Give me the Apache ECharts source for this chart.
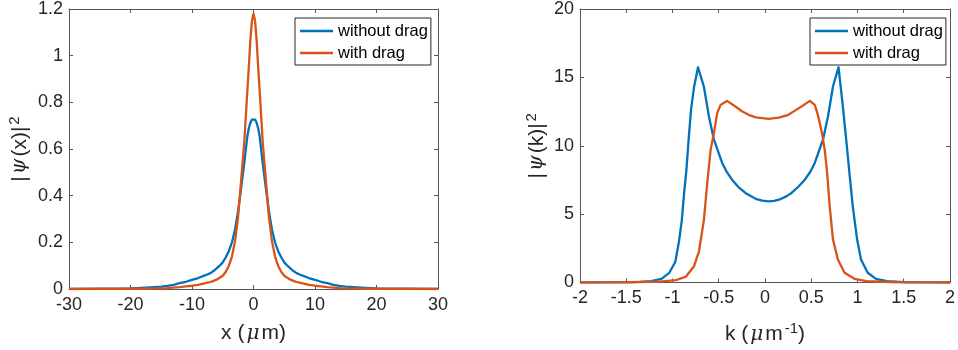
<!DOCTYPE html>
<html>
<head>
<meta charset="utf-8">
<script src="https://cdn.jsdelivr.net/npm/echarts@6/dist/echarts.min.js"></script>
<style>
html,body{margin:0;padding:0;background:#fff;}
#c{width:958px;height:350px;}
</style>
</head>
<body>
<div id="c"></div>
<script>
// ---- data: real-space density |psi(x)|^2 ----
const xGrid = [-30,-25,-22.5,-20,-17.5,-15,-14,-13,-12,-11,-10,-9,-8,-7.5,-7,-6.5,-6,-5.5,-5,-4.5,-4,-3.5,-3,-2.5,-2,-1.5,-1,-0.75,-0.5,-0.25,0,
               0.25,0.5,0.75,1,1.5,2,2.5,3,3.5,4,4.5,5,5.5,6,6.5,7,7.5,8,9,10,11,12,13,14,15,17.5,20,22.5,25,30];
const psiXNoDrag = [0,0.001,0.002,0.003,0.006,0.010,0.013,0.018,0.025,0.031,0.039,0.047,0.057,0.062,0.068,0.077,0.088,0.100,0.114,0.136,0.163,0.200,0.255,0.335,0.435,0.54,0.655,0.69,0.713,0.726,0.73,
                    0.726,0.713,0.69,0.655,0.54,0.435,0.335,0.255,0.200,0.163,0.136,0.114,0.100,0.088,0.077,0.068,0.062,0.057,0.047,0.039,0.031,0.025,0.018,0.013,0.010,0.006,0.003,0.002,0.001,0];
const psiXDrag   = [0,0,0,0.001,0.002,0.003,0.004,0.006,0.008,0.011,0.014,0.018,0.024,0.027,0.030,0.035,0.040,0.048,0.057,0.074,0.100,0.140,0.205,0.31,0.47,0.63,0.85,0.955,1.07,1.15,1.18,
                    1.15,1.07,0.955,0.85,0.63,0.47,0.31,0.205,0.140,0.100,0.074,0.057,0.048,0.040,0.035,0.030,0.027,0.024,0.018,0.014,0.011,0.008,0.006,0.004,0.003,0.002,0.001,0,0,0];

// ---- data: momentum-space density |psi(k)|^2 ----
const kNoDrag = [-2,-1.7,-1.5,-1.35,-1.23,-1.12,-1.035,-0.97,-0.93,-0.9,-0.875,-0.85,-0.825,-0.8,-0.767,-0.724,
                 -0.66,-0.606,-0.552,-0.463,-0.41,-0.356,-0.29,-0.212,-0.15,-0.1,-0.03,0.038,0.1,0.17,0.23,0.287,0.36,0.431,0.49,0.538,0.627,0.681,0.735,0.795,
                 0.842,0.878,0.913,0.949,0.996,1.038,1.11,1.2,1.32,1.5,1.7,2];
const psiKNoDrag = [0,0.003,0.01,0.04,0.1,0.27,0.71,1.5,3.0,4.5,6.5,8.2,10.5,12.6,14.3,15.74,
                    14.3,12.14,10.44,8.74,8.05,7.52,7.0,6.55,6.3,6.12,5.98,5.93,5.97,6.1,6.3,6.55,7.0,7.52,8.1,8.74,10.44,12.14,14.33,15.74,
                    12.87,10.44,8.0,5.57,3.14,1.68,0.71,0.27,0.1,0.02,0.004,0];
const kDrag = [-2,-1.7,-1.46,-1.14,-0.963,-0.856,-0.767,-0.713,-0.66,-0.624,-0.588,-0.552,-0.517,-0.48,-0.41,-0.32,-0.25,-0.177,-0.1,
               0.038,0.15,0.252,0.32,0.395,0.485,0.538,0.574,0.617,0.646,0.672,0.699,0.735,0.788,0.86,0.967,1.1,1.4,1.7,2];
const psiKDrag = [0,0.005,0.02,0.07,0.17,0.42,1.19,2.3,4.6,7.3,9.7,10.93,12.39,12.99,13.28,12.87,12.52,12.26,12.08,
                  11.97,12.05,12.26,12.55,12.87,13.28,12.99,12.2,10.9,9.7,8.0,5.6,3.14,1.68,0.71,0.27,0.1,0.02,0.004,0];

const seriesNames = ['without drag','with drag'];
const seriesColors = ['#0072BD','#D95319'];

function pairs(xs, ys){ return xs.map((x,i)=>[x, ys[i]]); }

const FONT = '"Liberation Sans", Arial, Helvetica, sans-serif';
const TXT = '#262626';
const LINE = '#555555';
const RICH = {
  i:{fontFamily:'"DejaVu Serif", serif', fontStyle:'italic', fontSize:20, color:TXT, padding:[0,2,0,2]},
  s:{fontFamily:FONT, fontSize:15, color:TXT, verticalAlign:'top', padding:[0,0,11,2]}
};

function mainX(gi, min, max, interval, name, gap){
  return {
    type:'value', gridIndex:gi, min:min, max:max, interval:interval, position:'bottom',
    axisLine:{show:true, onZero:false, lineStyle:{color:LINE, width:1}},
    axisTick:{show:true, inside:true, length:4, lineStyle:{color:LINE}},
    axisLabel:{fontFamily:FONT, fontSize:18, color:TXT, margin:7},
    splitLine:{show:false},
    name:name, nameLocation:'middle', nameGap:gap,
    nameTextStyle:{fontFamily:FONT, fontSize:21, color:TXT, rich:RICH}
  };
}
function mirrorX(gi, min, max, interval){
  return {type:'value', gridIndex:gi, min:min, max:max, interval:interval, position:'top',
    axisLine:{show:true, onZero:false, lineStyle:{color:LINE, width:1}},
    axisTick:{show:true, inside:true, length:4, lineStyle:{color:LINE}},
    axisLabel:{show:false}, splitLine:{show:false}};
}
function mainY(gi, min, max, interval, name, gap){
  return {
    type:'value', gridIndex:gi, min:min, max:max, interval:interval, position:'left',
    axisLine:{show:true, onZero:false, lineStyle:{color:LINE, width:1}},
    axisTick:{show:true, inside:true, length:4, lineStyle:{color:LINE}},
    axisLabel:{fontFamily:FONT, fontSize:18, color:TXT, margin:6},
    splitLine:{show:false},
    name:name, nameLocation:'middle', nameGap:gap, nameRotate:90,
    nameTextStyle:{fontFamily:FONT, fontSize:21, color:TXT, rich:RICH}
  };
}
function mirrorY(gi, min, max, interval){
  return {type:'value', gridIndex:gi, min:min, max:max, interval:interval, position:'right',
    axisLine:{show:true, onZero:false, lineStyle:{color:LINE, width:1}},
    axisTick:{show:true, inside:true, length:4, lineStyle:{color:LINE}},
    axisLabel:{show:false}, splitLine:{show:false}};
}
function legendAt(left){
  return {left:left, top:18, orient:'vertical', data:seriesNames.slice(),
    icon:'rect', itemWidth:33, itemHeight:2.5, itemGap:4,
    padding:[4,3,3,5], borderColor:'#262626', borderWidth:1, backgroundColor:'#fff',
    textStyle:{fontFamily:FONT, fontSize:16.5, color:'#000', lineHeight:18}};
}
function lineSeries(idx, xAxisIndex, yAxisIndex, data){
  return {name:seriesNames[idx], type:'line', xAxisIndex:xAxisIndex, yAxisIndex:yAxisIndex,
    data:data, showSymbol:false, symbol:'none', smooth:false,
    lineStyle:{color:seriesColors[idx], width:2.3, join:'round'}, itemStyle:{color:seriesColors[idx]},
    animation:false, z:3};
}

const chart = echarts.init(document.getElementById('c'), null, {renderer:'canvas'});
chart.setOption({
  animation:false,
  backgroundColor:'#fff',
  grid:[
    {left:69, top:9, width:369, height:280, show:false},
    {left:580, top:9, width:373, height:274, show:false}
  ],
  xAxis:[
    mainX(0,-30,30,10,'x ({i|μ}m)',34),
    mirrorX(0,-30,30,10),
    mainX(1,-2,2,0.5,'k ({i|μ}m{s|-1})',39),
    mirrorX(1,-2,2,0.5)
  ],
  yAxis:[
    mainY(0,0,1.2,0.2,'|{i|ψ}(x)|{s|2}',36),
    mirrorY(0,0,1.2,0.2),
    mainY(1,0,20,5,'|{i|ψ}(k)|{s|2}',30),
    mirrorY(1,0,20,5)
  ],
  legend:[legendAt(295), legendAt(810)],
  series:[
    lineSeries(0,0,0,pairs(xGrid,psiXNoDrag)),
    lineSeries(1,0,0,pairs(xGrid,psiXDrag)),
    lineSeries(0,2,2,pairs(kNoDrag,psiKNoDrag)),
    lineSeries(1,2,2,pairs(kDrag,psiKDrag))
  ]
});
</script>
</body>
</html>
